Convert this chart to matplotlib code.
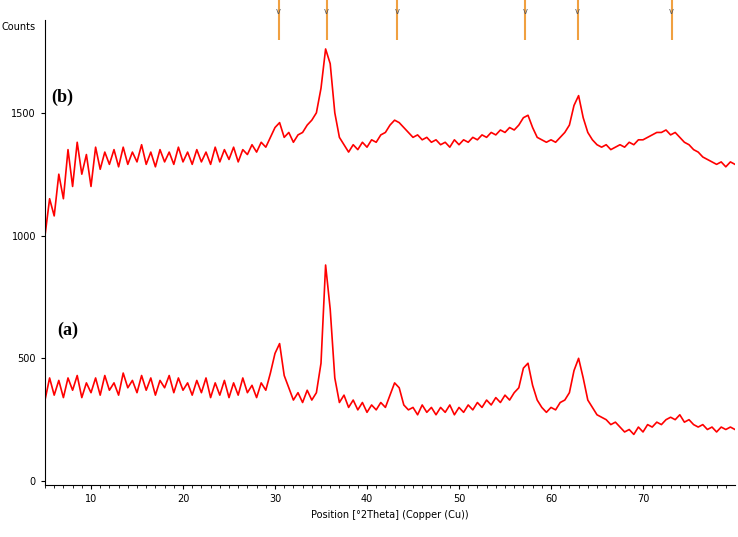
import numpy as np
import matplotlib
matplotlib.use("Agg")
import matplotlib.pyplot as plt

two_theta = np.arange(5, 80.01, 0.5)
counts_a = [330,420,350,410,340,420,370,430,340,400,360,420,350,430,370,400,350,440,380,410,
 360,430,370,420,350,410,380,430,360,420,370,400,350,410,360,420,340,400,350,410,
 340,400,350,420,360,390,340,400,370,440,520,560,430,380,330,360,320,370,330,360,
 480,880,700,420,320,350,300,330,290,320,280,310,290,320,300,350,400,380,310,290,
 300,270,310,280,300,270,300,280,310,270,300,280,310,290,320,300,330,310,340,320,
 350,330,360,380,460,480,390,330,300,280,300,290,320,330,360,450,500,420,330,300,
 270,260,250,230,240,220,200,210,190,220,200,230,220,240,230,250,260,250,270,240,
 250,230,220,230,210,220,200,220,210,220,210]
counts_b = [1000,1150,1080,1250,1150,1350,1200,1380,1250,1330,1200,1360,1270,1340,1290,1350,1280,1360,1290,1340,
 1300,1370,1290,1340,1280,1350,1300,1340,1290,1360,1300,1340,1290,1350,1300,1340,1290,1360,1300,1350,
 1310,1360,1300,1350,1330,1370,1340,1380,1360,1400,1440,1460,1400,1420,1380,1410,1420,1450,1470,1500,
 1600,1760,1700,1500,1400,1370,1340,1370,1350,1380,1360,1390,1380,1410,1420,1450,1470,1460,1440,1420,
 1400,1410,1390,1400,1380,1390,1370,1380,1360,1390,1370,1390,1380,1400,1390,1410,1400,1420,1410,1430,
 1420,1440,1430,1450,1480,1490,1440,1400,1390,1380,1390,1380,1400,1420,1450,1530,1570,1480,1420,1390,
 1370,1360,1370,1350,1360,1370,1360,1380,1370,1390,1390,1400,1410,1420,1420,1430,1410,1420,1400,1380,
 1370,1350,1340,1320,1310,1300,1290,1300,1280,1300,1290]
ref_peaks = [30.4, 35.6, 43.3, 57.2, 62.9, 73.1]
series_labels = ["(a)", "(b)"]

fig = plt.figure(figsize=(7.38, 5.37), dpi=100)
ax = fig.add_axes([45/738, 1-485/537, 690/738, 465/537])
ax.plot(two_theta, counts_a, color="red", lw=1.2)
ax.plot(two_theta, counts_b, color="red", lw=1.2)
ax.set_xlim(5, 80)
ax.set_ylim(-16, 1878)
ax.set_xticks([10,20,30,40,50,60,70])
ax.set_xticks(np.arange(5, 80, 1), minor=True)
ax.set_yticks([0,500,1000,1500])
ax.tick_params(labelsize=7, length=3)
ax.tick_params(which="minor", length=2)
for s in ["top", "right"]:
    ax.spines[s].set_visible(False)
ax.set_xlabel("Position [°2Theta] (Copper (Cu))", fontsize=7)
ax.text(6.3, 615, series_labels[0], fontsize=13, fontweight="bold", family="Liberation Serif", va="center")
ax.text(5.7, 1565, series_labels[1], fontsize=13, fontweight="bold", family="Liberation Serif", va="center")
fig.text(2/738, 1-27/537, "Counts", fontsize=7, va="center")

top = fig.add_axes([45/738, 1-40/537, 690/738, 40/537])
top.set_xlim(5, 80); top.set_ylim(0, 1)
top.axis("off")
top.vlines(ref_peaks, 0, 1, color="#f0a040", lw=1.5)
for p in ref_peaks:
    top.text(p, 0.72, "v", ha="center", va="center", fontsize=6, color="#555555")
fig.savefig("out.png", dpi=100)
